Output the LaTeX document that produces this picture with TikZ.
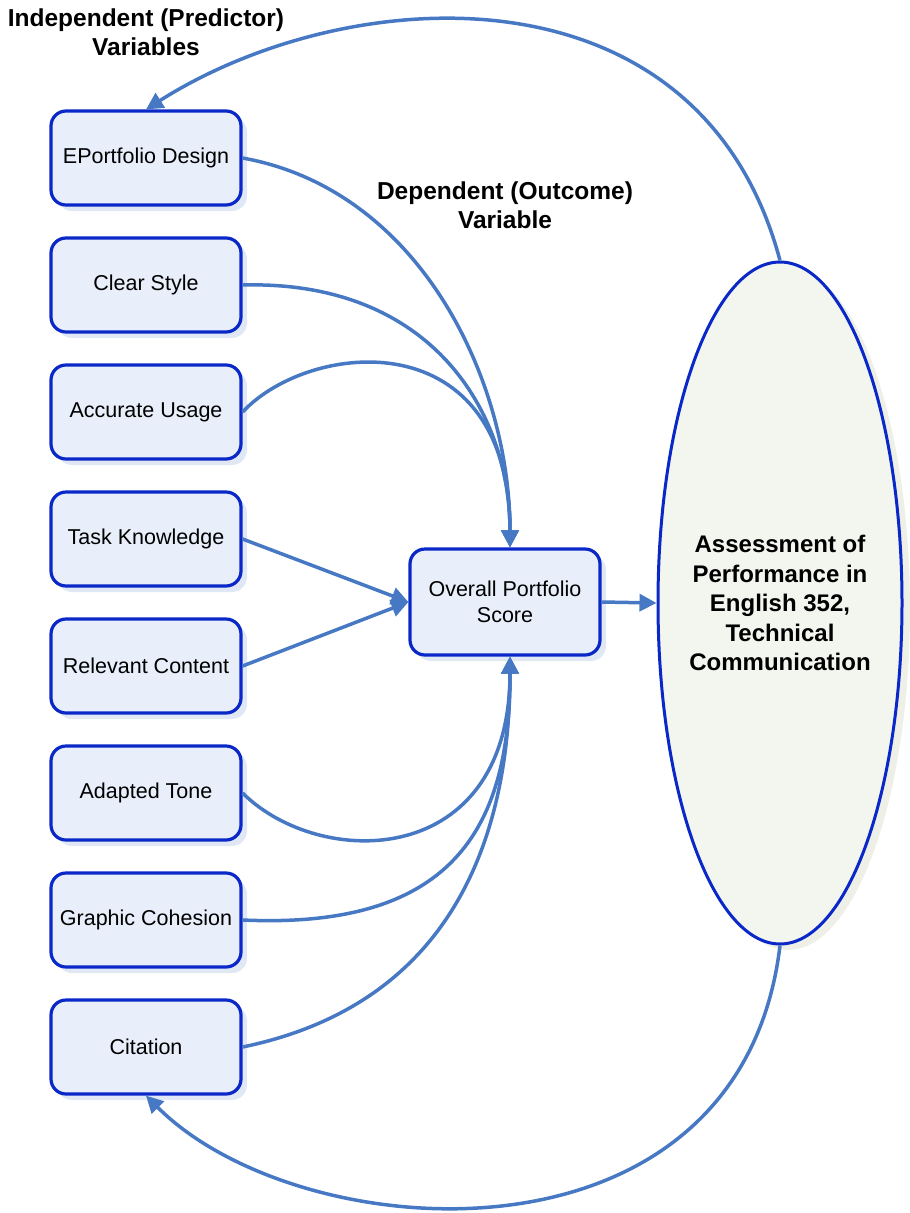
\documentclass[tikz,border=0pt]{standalone}
\usepackage{fontspec}
\setmainfont{Liberation Sans}
\usetikzlibrary{arrows.meta,shadows,shapes.geometric}
\definecolor{boxline}{RGB}{10,40,200}
\definecolor{boxfill}{RGB}{232,238,250}
\definecolor{shadowc}{RGB}{225,232,245}
\definecolor{arrowc}{RGB}{70,120,195}
\definecolor{ellfill}{RGB}{243,245,239}
\definecolor{ellshadow}{RGB}{238,240,232}
\begin{document}
\begin{tikzpicture}[x=1pt,y=-1pt,
  varbox/.style={draw=boxline,line width=3.2pt,rounded corners=15pt,fill=boxfill,
    minimum width=190pt,minimum height=94pt,font=\fontsize{21.5}{26}\selectfont,align=center,
    drop shadow={shadow xshift=6pt,shadow yshift=-6pt,fill=shadowc,opacity=1}},
  conn/.style={draw=arrowc,line width=3.5pt,-{Triangle[length=17pt,width=17pt]}},
  lbl/.style={font=\bfseries\fontsize{24.5}{29}\selectfont,align=center}]
\useasboundingbox (0,0) rectangle (910,1213);
% ellipse
\node[ellipse,draw=boxline,line width=3pt,fill=ellfill,inner sep=0pt,minimum width=244pt,minimum height=682pt,
  drop shadow={shadow xshift=8pt,shadow yshift=-6pt,fill=ellshadow,opacity=1}] (ell) at (780,603) {};
\node[font=\bfseries\fontsize{24}{29.5}\selectfont,align=center] (ellt) at (ell.center)
  {Assessment of\\Performance in\\English 352,\\Technical\\Communication};
% boxes
\node[varbox] (b1) at (146,158) {EPortfolio Design};
\node[varbox] (b2) at (146,285) {Clear Style};
\node[varbox] (b3) at (146,412) {Accurate Usage};
\node[varbox] (b4) at (146,539) {Task Knowledge};
\node[varbox] (b5) at (146,666) {Relevant Content};
\node[varbox] (b6) at (146,793) {Adapted Tone};
\node[varbox] (b7) at (146,920) {Graphic Cohesion};
\node[varbox] (b8) at (146,1047) {Citation};
\node[varbox,minimum height=106pt] (c) at (505,602) {Overall Portfolio\\Score};
% labels
\node[lbl] (l1) at (146,32) {Independent (Predictor)\\Variables};
\node[lbl] (l2) at (505,205) {Dependent (Outcome)\\Variable};
% connectors
\coordinate (ct) at ([xshift=5pt]c.north);
\coordinate (cb) at ([xshift=5pt]c.south);
\draw[conn] (b1.east) .. controls (420,190) and (510,380) .. (ct);
\draw[conn] (b2.east) .. controls (430,280) and (510,410) .. (ct);
\draw[conn] (b3.east) .. controls (310,340) and (510,320) .. (ct);
\draw[conn] (b4.east) -- (c.west);
\draw[conn] (b5.east) -- (c.west);
\draw[conn] (b6.east) .. controls (320,870) and (510,870) .. (cb);
\draw[conn] (b7.east) .. controls (460,930) and (510,820) .. (cb);
\draw[conn] (b8.east) .. controls (470,1000) and (510,810) .. (cb);
\draw[conn] (c.east) -- (ell.west);
\draw[conn] (ell.north) .. controls (700,-40) and (350,-20) .. (b1.north);
\draw[conn] (ell.south) .. controls (740,1280) and (300,1250) .. (b8.south);
\end{tikzpicture}
\end{document}
